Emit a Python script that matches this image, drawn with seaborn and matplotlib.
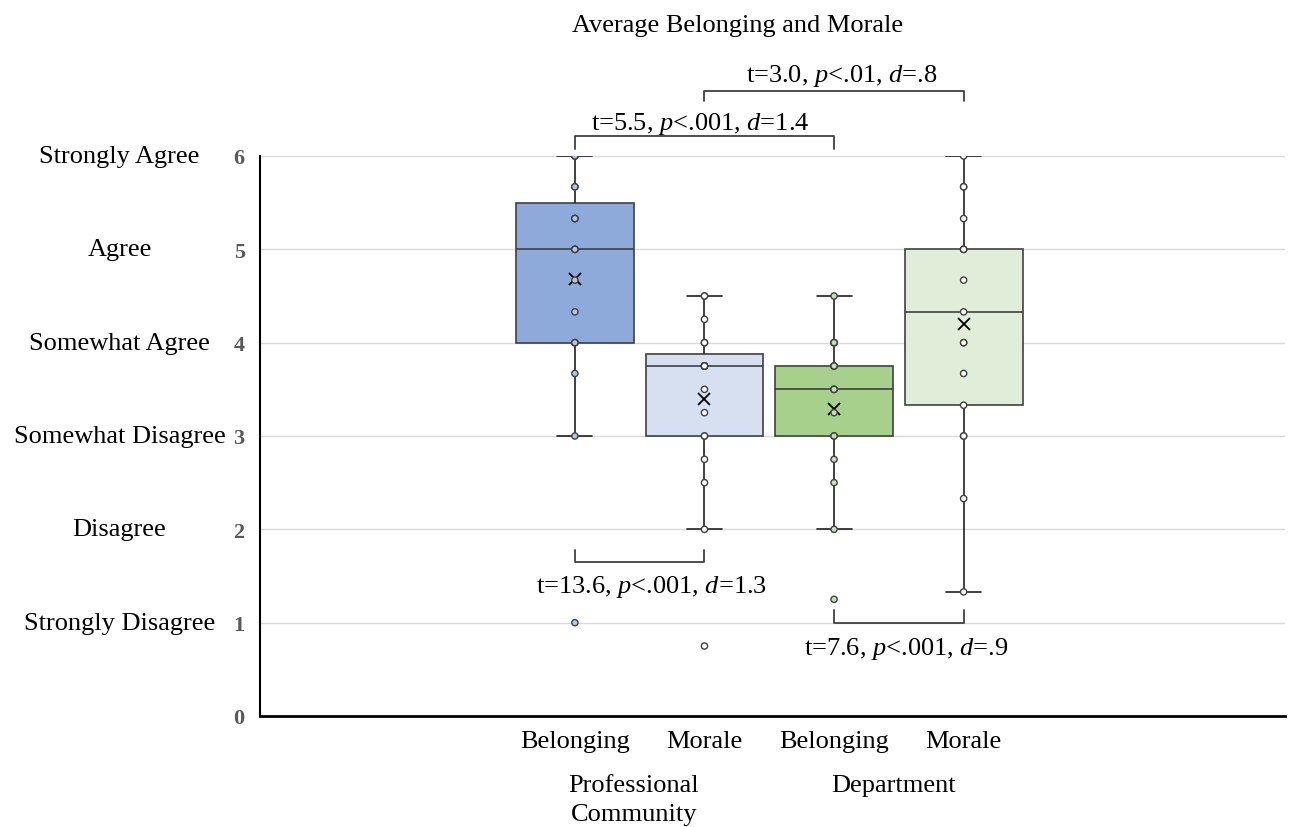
import numpy as np
import pandas as pd
import matplotlib
matplotlib.use("Agg")
import matplotlib.pyplot as plt
import seaborn as sns

# individual responses (averaged scale scores)
pc_belonging = [1, 3, 3.67, 4, 4, 4, 4.33, 4.67, 5, 5, 5, 5.33, 5.33, 5.33, 5.67, 5.67, 6, 6, 6]
pc_morale = [0.75, 2, 2.5, 2.75, 3, 3, 3.25, 3.5, 3.75, 3.75, 3.75, 3.75, 3.75, 3.75, 4, 4, 4.25, 4.5, 4.5]
dept_belonging = [1.25, 2, 2.5, 2.75, 3, 3, 3.25, 3.5, 3.5, 3.5, 3.75, 3.75, 3.75, 4, 4, 4, 4.5]
dept_morale = [1.33, 2.33, 3, 3, 3.33, 3.67, 4, 4, 4.33, 4.67, 5, 5, 5, 5.33, 5.67, 5.67, 6]

groups = ["PC Belonging", "PC Morale", "Dept Belonging", "Dept Morale"]
tick_labels = ["Belonging", "Morale", "Belonging", "Morale"]
scale_labels = ["Strongly Disagree", "Disagree", "Somewhat Disagree", "Somewhat Agree", "Agree", "Strongly Agree"]
box_colors = ["#8eaadb", "#d6e0f1", "#a8d08d", "#e0eed9"]
dot_colors = ["#b4c7e7", "#ffffff", "#c5e0b4", "#ffffff"]

# comparison brackets: (x1, x2, bar y, leg end y, text x, text baseline y, text)
brackets = [
    (0, 2, 6.21, 6.08, 0.97, 6.29, r"t=5.5, $p$<.001, $d$=1.4"),
    (1, 3, 6.70, 6.59, 2.06, 6.80, r"t=3.0, $p$<.01, $d$=.8"),
    (0, 1, 1.65, 1.78, 0.59, 1.33, r"t=13.6, $p$<.001, $d$=1.3"),
    (2, 3, 1.00, 1.14, 2.56, 0.66, r"t=7.6, $p$<.001, $d$=.9"),
]

df = pd.concat([
    pd.DataFrame({"group": g, "score": v})
    for g, v in zip(groups, [pc_belonging, pc_morale, dept_belonging, dept_morale])
], ignore_index=True)

sns.set_theme(style="white")
plt.rcParams["font.family"] = ["Liberation Serif", "DejaVu Serif"]
plt.rcParams["text.color"] = "black"
plt.rcParams["mathtext.fontset"] = "custom"
plt.rcParams["mathtext.rm"] = "Liberation Serif"
plt.rcParams["mathtext.it"] = "Liberation Serif:italic"

fig = plt.figure(figsize=(12.93, 8.28), dpi=100)
ax = fig.add_axes([260 / 1293, 1 - 717 / 828, 1025 / 1293, 560 / 828])

edge = "#404040"
sns.boxplot(
    data=df, x="group", y="score", hue="group", order=groups, hue_order=groups,
    palette=box_colors, saturation=1, width=0.91, dodge=False, legend=False,
    linecolor=edge, linewidth=1.2, showfliers=False, ax=ax,
    capwidths=0.27, showmeans=True,
    meanprops=dict(marker="x", markeredgecolor="black", markerfacecolor="black",
                   markersize=9, markeredgewidth=1.3),
    whiskerprops=dict(color="#202020"), capprops=dict(color="#202020"),
    zorder=2,
)
sns.stripplot(
    data=df, x="group", y="score", hue="group", order=groups, hue_order=groups,
    palette=dot_colors, jitter=False, size=4.5, linewidth=1, edgecolor=edge,
    legend=False, ax=ax, zorder=3,
)

ax.set_ylim(0, 6)
ax.set_xlim(-2.43, 5.48)
ax.set_yticks(range(0, 7))
ax.set_yticklabels([str(i) for i in range(0, 7)], fontsize=16, fontweight="bold", color="#595959")
ax.set_xticks(range(4))
ax.set_xticklabels(tick_labels, fontsize=19, color="black")
ax.tick_params(axis="both", length=0)
ax.tick_params(axis="y", pad=11)
ax.tick_params(axis="x", pad=10)
ax.set_xlabel("")
ax.set_ylabel("")

for y in range(1, 7):
    ax.axhline(y, color="#d9d9d9", linewidth=1, zorder=0)

for s in ["top", "right"]:
    ax.spines[s].set_visible(False)
ax.spines["left"].set_color("black")
ax.spines["left"].set_linewidth(1.5)
ax.spines["bottom"].set_color("black")
ax.spines["bottom"].set_linewidth(2)

ytrans = ax.get_yaxis_transform()
for val, lab in enumerate(scale_labels, start=1):
    ax.text(-0.137, val, lab, transform=ytrans, ha="center", va="center", fontsize=19)

xtrans = ax.get_xaxis_transform()
ax.text(0.456, -0.134, "Professional", transform=xtrans, ha="center", va="baseline", fontsize=19)
ax.text(0.456, -0.186, "Community", transform=xtrans, ha="center", va="baseline", fontsize=19)
ax.text(2.46, -0.134, "Department", transform=xtrans, ha="center", va="baseline", fontsize=19)

for x1, x2, ybar, yleg, tx, ty, txt in brackets:
    ax.plot([x1, x1, x2, x2], [yleg, ybar, ybar, yleg], color=edge, linewidth=1.3,
            clip_on=False, zorder=4)
    ax.text(tx, ty, txt, ha="center", va="baseline", fontsize=19, clip_on=False)

fig.text(738 / 1293, 1 - 32 / 828, "Average Belonging and Morale", ha="center",
         va="baseline", fontsize=19)

fig.savefig("out.png", dpi=100)
